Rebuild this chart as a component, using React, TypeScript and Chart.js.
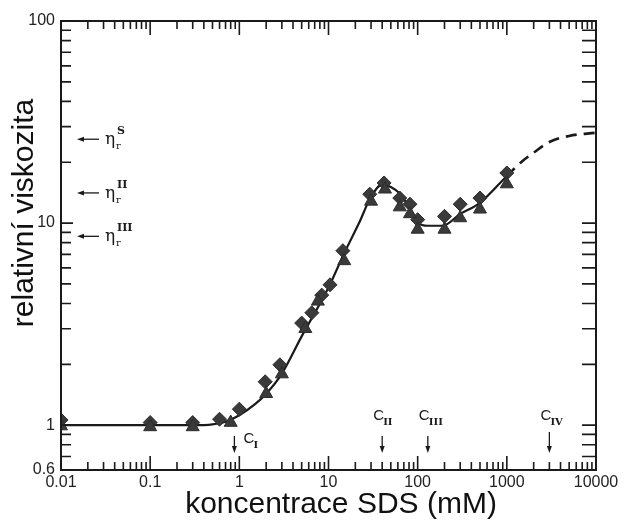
import React, { useEffect, useRef } from "react";
import { Chart, registerables } from "chart.js";

Chart.register(...registerables);

// ---- data ----
const curveX = [0.01, 0.1, 0.3, 0.5, 0.7, 1, 1.5, 2, 3, 5, 10, 15, 22, 30, 40, 50, 63, 80, 100, 130, 190, 300, 500, 1000];
const curveY = [1.0, 1.0, 1.0, 1.01, 1.04, 1.12, 1.27, 1.43, 1.8, 2.75, 4.8, 7.1, 10, 13.5, 15.5, 15.1, 14.0, 12.0, 10.1, 9.7, 9.7, 11.1, 12.6, 17.1];

const dashX = [1000, 1500, 2000, 3000, 5000, 10000];
const dashY = [17.1, 20.3, 22.3, 25.2, 27.0, 28.0];

const diamondX = [0.01, 0.1, 0.3, 0.6, 1.0, 1.95, 2.85, 5.0, 6.5, 8.4, 10.4, 14.5, 29, 42, 63, 82, 100, 200, 300, 500, 1000];
const diamondY = [1.06, 1.03, 1.03, 1.07, 1.2, 1.64, 1.99, 3.2, 3.6, 4.4, 4.95, 7.3, 13.9, 15.8, 13.3, 12.4, 10.4, 10.8, 12.4, 13.3, 17.7];

const triangleX = [0.01, 0.1, 0.3, 0.8, 2.0, 3.0, 5.5, 7.6, 15, 30, 43, 63, 82, 100, 200, 300, 500, 1000];
const triangleY = [0.99, 0.98, 0.98, 1.03, 1.43, 1.79, 3.0, 4.1, 6.5, 12.8, 14.7, 12.0, 11.1, 9.3, 9.3, 10.6, 11.7, 15.6];

const xTickValues = [0.01, 0.1, 1, 10, 100, 1000, 10000];
const xTickLabels = ["0.01", "0.1", "1", "10", "100", "1000", "10000"];
const yTickValues = [0.6, 1, 10, 100];
const yTickLabels = ["0.6", "1", "10", "100"];

const etaLevels = [26, 14.1, 8.6];
const etaSup = ["S", "II", "III"];

const critX = [0.88, 40, 130, 3000];
const critSub = ["I", "II", "III", "IV"];

const xTitle = "koncentrace SDS (mM)";
const yTitle = "relativní viskozita";

const SANS = "'Liberation Sans', Arial, sans-serif";
const SERIF = "'DejaVu Serif', 'Liberation Serif', serif";
const INK = "#1a1a1a";
const MARK = "#3a3a3a";

const toPts = (xs: number[], ys: number[]) => xs.map((x, i) => ({ x, y: ys[i] }));

const findLabel = (vals: number[], labels: string[], v: number) => {
  const i = vals.findIndex((t) => Math.abs(t - v) / t < 1e-6);
  return i >= 0 ? labels[i] : "";
};

const decorPlugin = {
  id: "decor",
  afterDraw(chart: any) {
    const ctx = chart.ctx as CanvasRenderingContext2D;
    const { left, right, top, bottom } = chart.chartArea;
    const xs = chart.scales.x;
    const ys = chart.scales.y;
    ctx.save();

    // frame
    ctx.strokeStyle = INK;
    ctx.lineWidth = 2;
    ctx.strokeRect(left, top, right - left, bottom - top);

    // inward ticks, x
    ctx.lineWidth = 1.6;
    ctx.beginPath();
    for (let e = -2; e <= 3; e++) {
      for (let m = 1; m <= 9; m++) {
        const v = m * Math.pow(10, e);
        const px = xs.getPixelForValue(v);
        const len = m === 1 ? 14 : 8;
        ctx.moveTo(px, bottom);
        ctx.lineTo(px, bottom - len);
        ctx.moveTo(px, top);
        ctx.lineTo(px, top + len);
      }
    }
    // inward ticks, y
    for (let e = -1; e <= 2; e++) {
      for (let m = 1; m <= 9; m++) {
        const v = m * Math.pow(10, e);
        if (v < 0.59 || v > 100.1) continue;
        const py = ys.getPixelForValue(v);
        const lenL = m === 1 ? 12 : 10;
        ctx.moveTo(left, py);
        ctx.lineTo(left + lenL, py);
        ctx.moveTo(right, py);
        ctx.lineTo(right - 14, py);
      }
    }
    ctx.stroke();

    // eta arrows at left
    ctx.fillStyle = INK;
    ctx.strokeStyle = INK;
    ctx.lineWidth = 1.3;
    etaLevels.forEach((lv, i) => {
      const py = ys.getPixelForValue(lv);
      const x0 = left + 16;
      const x1 = left + 38;
      ctx.beginPath();
      ctx.moveTo(x0 + 5, py);
      ctx.lineTo(x1, py);
      ctx.stroke();
      ctx.beginPath();
      ctx.moveTo(x0, py);
      ctx.lineTo(x0 + 7, py - 2.5);
      ctx.lineTo(x0 + 7, py + 2.5);
      ctx.closePath();
      ctx.fill();
      ctx.font = `17px ${SERIF}`;
      ctx.textAlign = "left";
      ctx.textBaseline = "alphabetic";
      ctx.fillText("η", left + 44, py + 5);
      ctx.font = `10px ${SERIF}`;
      ctx.fillText("r", left + 55, py + 10);
      ctx.font = `bold 11px ${SERIF}`;
      ctx.fillText(etaSup[i], left + 56, py - 5);
    });

    // critical concentration arrows at bottom
    critX.forEach((cv, i) => {
      const px = xs.getPixelForValue(cv);
      const yTop = i === 3 ? bottom - 38 : bottom - 34;
      const yTip = bottom - 17;
      ctx.beginPath();
      ctx.moveTo(px, yTop);
      ctx.lineTo(px, yTip - 5);
      ctx.stroke();
      ctx.beginPath();
      ctx.moveTo(px, yTip);
      ctx.lineTo(px - 2.5, yTip - 7);
      ctx.lineTo(px + 2.5, yTip - 7);
      ctx.closePath();
      ctx.fill();
      let cx: number, cy: number;
      if (i === 0) {
        cx = px + 9;
        cy = bottom - 27;
      } else {
        cx = px - 9;
        cy = bottom - 50;
      }
      ctx.font = `15px ${SANS}`;
      ctx.textAlign = "left";
      ctx.textBaseline = "alphabetic";
      ctx.fillText("C", cx, cy);
      ctx.font = `bold 10px ${SERIF}`;
      ctx.fillText(critSub[i], cx + 10, cy + 5);
    });

    // axis titles
    ctx.fillStyle = "#111";
    ctx.font = `30px ${SANS}`;
    ctx.textAlign = "center";
    ctx.textBaseline = "alphabetic";
    ctx.fillText(xTitle, left + 280, bottom + 43);
    ctx.translate(33, top + 192);
    ctx.rotate(-Math.PI / 2);
    ctx.fillText(yTitle, 0, 0);
    ctx.restore();
  },
};

export default function App() {
  const ref = useRef<HTMLCanvasElement | null>(null);

  useEffect(() => {
    if (!ref.current) return;
    const chart = new Chart(ref.current, {
      type: "scatter",
      data: {
        datasets: [
          {
            type: "line",
            data: toPts(curveX, curveY),
            borderColor: INK,
            borderWidth: 2.2,
            pointRadius: 0,
            cubicInterpolationMode: "monotone",
            fill: false,
            order: 3,
          } as any,
          {
            type: "line",
            data: toPts(dashX, dashY),
            borderColor: INK,
            borderWidth: 2.6,
            borderDash: [11, 7],
            pointRadius: 0,
            cubicInterpolationMode: "monotone",
            fill: false,
            order: 3,
          } as any,
          {
            data: toPts(triangleX, triangleY),
            pointStyle: "triangle",
            pointRadius: 7.5,
            backgroundColor: MARK,
            borderColor: "#2c2c2c",
            borderWidth: 1,
            order: 1,
          },
          {
            data: toPts(diamondX, diamondY),
            pointStyle: "rectRot",
            pointRadius: 7,
            backgroundColor: MARK,
            borderColor: "#2c2c2c",
            borderWidth: 1,
            order: 2,
          },
        ],
      },
      options: {
        animation: false,
        responsive: true,
        maintainAspectRatio: false,
        layout: { padding: { left: 0, right: 28, top: 21, bottom: 0 } },
        plugins: { legend: { display: false }, tooltip: { enabled: false } },
        scales: {
          x: {
            type: "logarithmic",
            min: 0.01,
            max: 10000,
            grid: { display: false, drawTicks: false },
            border: { display: false },
            afterBuildTicks: (s: any) => {
              s.ticks = xTickValues.map((v) => ({ value: v }));
            },
            afterFit: (s: any) => {
              s.height = 51;
            },
            ticks: {
              autoSkip: false,
              maxRotation: 0,
              minRotation: 0,
              padding: 3,
              color: "#222",
              font: { family: SANS, size: 16 },
              callback: (v: any) => findLabel(xTickValues, xTickLabels, Number(v)),
            },
          },
          y: {
            type: "logarithmic",
            min: 0.6,
            max: 100,
            grid: { display: false, drawTicks: false },
            border: { display: false },
            afterBuildTicks: (s: any) => {
              s.ticks = yTickValues.map((v) => ({ value: v }));
            },
            afterFit: (s: any) => {
              s.width = 61;
            },
            ticks: {
              autoSkip: false,
              padding: 6,
              color: "#222",
              font: { family: SANS, size: 16 },
              callback: (v: any) => findLabel(yTickValues, yTickLabels, Number(v)),
            },
          },
        },
      },
      plugins: [decorPlugin],
    } as any);
    return () => chart.destroy();
  }, []);

  return (
    <div style={{ position: "absolute", left: 0, top: 0, width: 624, height: 521, background: "#fff" }}>
      <canvas ref={ref} />
    </div>
  );
}
